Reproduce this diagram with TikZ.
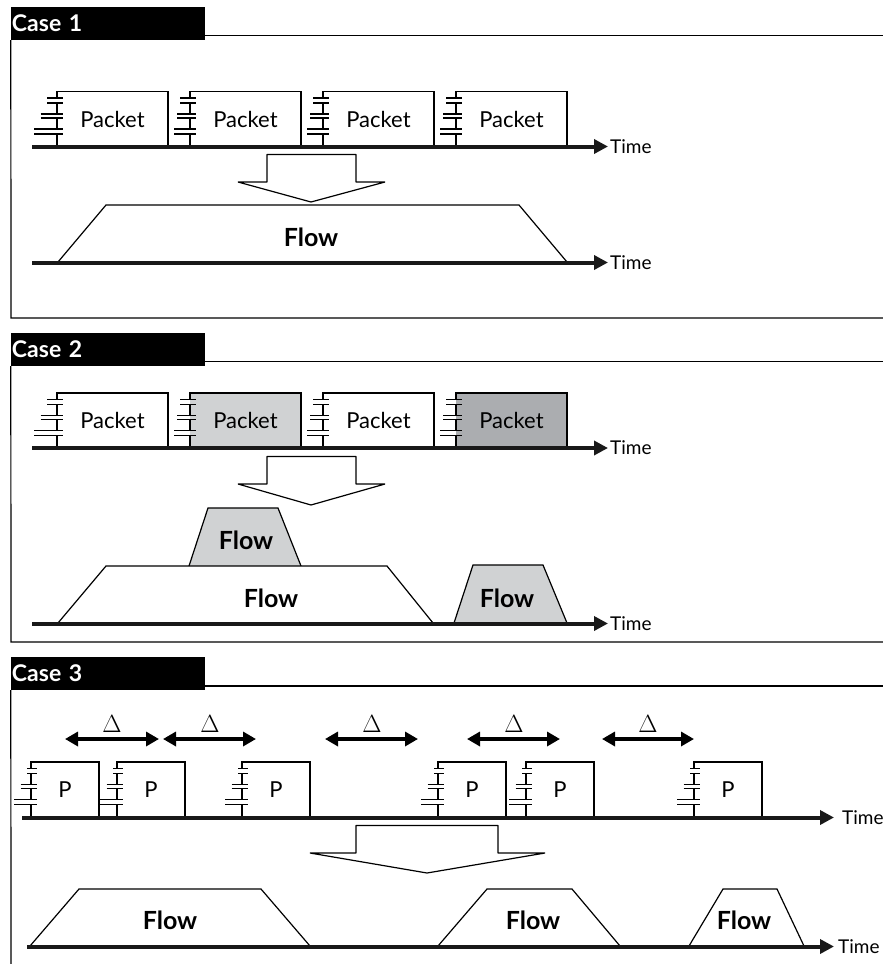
\documentclass[tikz,border=0pt]{standalone}
\usepackage{xcolor}
\usepackage{fontspec}
\setmainfont{Lato}
\usetikzlibrary{arrows.meta,positioning}
\definecolor{lightshade}{RGB}{208, 210, 211}
\definecolor{darkshade}{RGB}{171, 173, 176}

% outline and plate stacks of a packet: node name, left reach of the top pair, step per pair
\newcommand{\plates}[3]{
    \draw[plate] (#1.south east) -- (#1.north east) -- (#1.north west) -- ++(0,6.5);
    \draw[plate] ([yshift=-11.5pt]#1.north west) -- ++(0,11);
    \draw[plate] ([yshift=-26.5pt]#1.north west) -- ++(0,11);
    \draw[plate] ([yshift=-42.5pt]#1.north west) -- (#1.south west);
    \draw[plate] ([xshift=-#2 pt,yshift=-6.5pt]#1.north west) -- ([xshift=6pt,yshift=-6.5pt]#1.north west);
    \draw[plate] ([xshift=-#2 pt,yshift=-11.5pt]#1.north west) -- ([xshift=6pt,yshift=-11.5pt]#1.north west);
    \draw[plate] ([xshift=-#2 pt-#3 pt,yshift=-22.5pt]#1.north west) -- ([xshift=6pt,yshift=-22.5pt]#1.north west);
    \draw[plate] ([xshift=-#2 pt-#3 pt,yshift=-26.5pt]#1.north west) -- ([xshift=6pt,yshift=-26.5pt]#1.north west);
    \draw[plate] ([xshift=-#2 pt-2*#3 pt,yshift=-37.5pt]#1.north west) -- ([xshift=6pt,yshift=-37.5pt]#1.north west);
    \draw[plate] ([xshift=-#2 pt-2*#3 pt,yshift=-42.5pt]#1.north west) -- ([xshift=6pt,yshift=-42.5pt]#1.north west);
}

\begin{document}
\begin{tikzpicture}[
    x=1pt, y=-1pt,
    tab/.style={rectangle, fill=black, text=white, minimum height=33pt, text width=192pt, inner sep=1pt, align=left, font=\fontsize{23}{26}\selectfont\bfseries},
    frame/.style={draw=black, line width=1.2pt},
    packet/.style={rectangle, outer sep=0pt, minimum height=55pt, minimum width=111pt, font=\fontsize{22}{26}\selectfont},
    smallpacket/.style={packet, minimum width=68pt},
    plate/.style={draw=black, line width=1.3pt},
    axis/.style={-{Triangle[length=14pt,width=14pt]}, line width=4pt, draw=black!90},
    timelabel/.style={inner sep=0pt, font=\fontsize{19}{22}\selectfont},
    span/.style={{Triangle[length=13pt,width=14pt]}-{Triangle[length=13pt,width=14pt]}, line width=3.5pt},
    delta/.style={inner sep=0pt, font=\fontsize{26}{28}\selectfont},
    hollow/.style={draw=black, fill=white, line width=1.2pt, line join=bevel},
    flowshape/.style={draw=black, fill=white, line width=1.2pt},
    flowlabel/.style={inner sep=0pt, font=\fontsize{25}{28}\selectfont\bfseries}
]
    \useasboundingbox (0,0) rectangle (883,964);

    % Case 1
    \node[tab] (tab1) at (108,23.5) {Case 1};
    \draw[frame] (tab1.south west) -- (11,318) -- (883,318);
    \draw[frame] (205,35.5) -- (883,35.5);

    \node[packet, anchor=north west] (p11) at (57,91.5) {Packet};
    \node[packet, right=22pt of p11] (p12) {Packet};
    \node[packet, right=22pt of p12] (p13) {Packet};
    \node[packet, right=22pt of p13] (p14) {Packet};
    \plates{p11}{10}{6.5}
    \plates{p12}{10}{3}
    \plates{p13}{10}{3}
    \plates{p14}{10}{3}

    \coordinate (a1s) at (32,146.5);
    \coordinate (a1e) at (608,146.5);
    \draw[axis] (a1s) -- (a1e);
    \node[timelabel, right=2pt of a1e] (time1) {Time};

    \draw[hollow] (267,182) -- (267,154.5) -- (356,154.5) -- (356,182) -- (385,182) -- (311,202) -- (238,182) -- cycle;

    \draw[flowshape] (58,262) -- (106,205) -- (519,205) -- (567,262);
    \node[flowlabel] (flow1) at (311,237) {Flow};

    \coordinate (b1s) at (32,262.5);
    \coordinate (b1e) at (608,262.5);
    \draw[axis] (b1s) -- (b1e);
    \node[timelabel, right=2pt of b1e] (time2) {Time};

    % Case 2
    \node[tab] (tab2) at (108,349.5) {Case 2};
    \draw[frame] (tab2.south west) -- (11,642) -- (883,642);
    \draw[frame] (205,361.5) -- (883,361.5);

    \node[packet, anchor=north west] (p21) at (57,393) {Packet};
    \node[packet, fill=lightshade, right=22pt of p21] (p22) {Packet};
    \node[packet, right=22pt of p22] (p23) {Packet};
    \node[packet, fill=darkshade, right=22pt of p23] (p24) {Packet};
    \plates{p21}{10}{6.5}
    \plates{p22}{10}{3}
    \plates{p23}{10}{3}
    \plates{p24}{10}{3}

    \coordinate (a2s) at (32,448);
    \coordinate (a2e) at (608,448);
    \draw[axis] (a2s) -- (a2e);
    \node[timelabel, right=2pt of a2e] (time3) {Time};

    \draw[hollow] (267,484) -- (267,456.5) -- (356,456.5) -- (356,484) -- (385,484) -- (311,505) -- (238,484) -- cycle;

    \draw[flowshape, fill=lightshade] (189,566) -- (208,508) -- (278,508) -- (301,566);
    \node[flowlabel] (flow2) at (246,540) {Flow};
    \draw[flowshape] (58,623) -- (106,566) -- (387,566) -- (433,623);
    \node[flowlabel] (flow3) at (271,598) {Flow};
    \draw[flowshape, fill=lightshade] (454,623) -- (473,565) -- (543,565) -- (567,623);
    \node[flowlabel] (flow4) at (507,598) {Flow};

    \coordinate (b2s) at (32,623.5);
    \coordinate (b2e) at (608,623.5);
    \draw[axis] (b2s) -- (b2e);
    \node[timelabel, right=2pt of b2e] (time4) {Time};

    % Case 3
    \node[tab] (tab3) at (108,673.5) {Case 3};
    \draw[frame] (tab3.south west) -- (11,964);
    \draw[frame] (205,686) -- (883,686);

    \coordinate (d1s) at (65,739);
    \coordinate (d1e) at (159,739);
    \coordinate (d2s) at (163,739);
    \coordinate (d2e) at (256,739);
    \coordinate (d3s) at (325,739);
    \coordinate (d3e) at (418,739);
    \coordinate (d4s) at (467,739);
    \coordinate (d4e) at (560,739);
    \coordinate (d5s) at (602,739);
    \coordinate (d5e) at (694,739);
    \draw[span] (d1s) -- (d1e);
    \draw[span] (d2s) -- (d2e);
    \draw[span] (d3s) -- (d3e);
    \draw[span] (d4s) -- (d4e);
    \draw[span] (d5s) -- (d5e);
    \node[delta] (delta1) at (112,724) {$\Delta$};
    \node[delta] (delta2) at (210,724) {$\Delta$};
    \node[delta] (delta3) at (372,724) {$\Delta$};
    \node[delta] (delta4) at (514,724) {$\Delta$};
    \node[delta] (delta5) at (648,724) {$\Delta$};

    \node[smallpacket, anchor=north west] (p31) at (31,762) {P};
    \node[smallpacket, right=18pt of p31] (p32) {P};
    \node[smallpacket, right=57pt of p32] (p33) {P};
    \node[smallpacket, right=128pt of p33] (p34) {P};
    \node[smallpacket, right=20pt of p34] (p35) {P};
    \node[smallpacket, right=100pt of p35] (p36) {P};
    \plates{p31}{4}{6.5}
    \plates{p32}{4}{6.5}
    \plates{p33}{4}{6.5}
    \plates{p34}{4}{6.5}
    \plates{p35}{4}{6.5}
    \plates{p36}{4}{6.5}

    \coordinate (a3s) at (22,817.5);
    \coordinate (a3e) at (834,817.5);
    \draw[axis] (a3s) -- (a3e);
    \node[timelabel, right=8pt of a3e] (time5) {Time};

    \draw[hollow] (356,853) -- (356,825.5) -- (498,825.5) -- (498,853) -- (545,853) -- (427,873) -- (310,853) -- cycle;

    \draw[flowshape] (30,946) -- (79,889) -- (261,889) -- (310,946);
    \node[flowlabel] (flow5) at (170,920) {Flow};
    \draw[flowshape] (438,946) -- (487,889) -- (572,889) -- (620,946);
    \node[flowlabel] (flow6) at (533,920) {Flow};
    \draw[flowshape] (689,946) -- (723,889) -- (777,889) -- (804,946);
    \node[flowlabel] (flow7) at (744,920) {Flow};

    \coordinate (b3s) at (27,946.5);
    \coordinate (b3e) at (834,946.5);
    \draw[axis] (b3s) -- (b3e);
    \node[timelabel, right=4pt of b3e] (time6) {Time};

\end{tikzpicture}
\end{document}
